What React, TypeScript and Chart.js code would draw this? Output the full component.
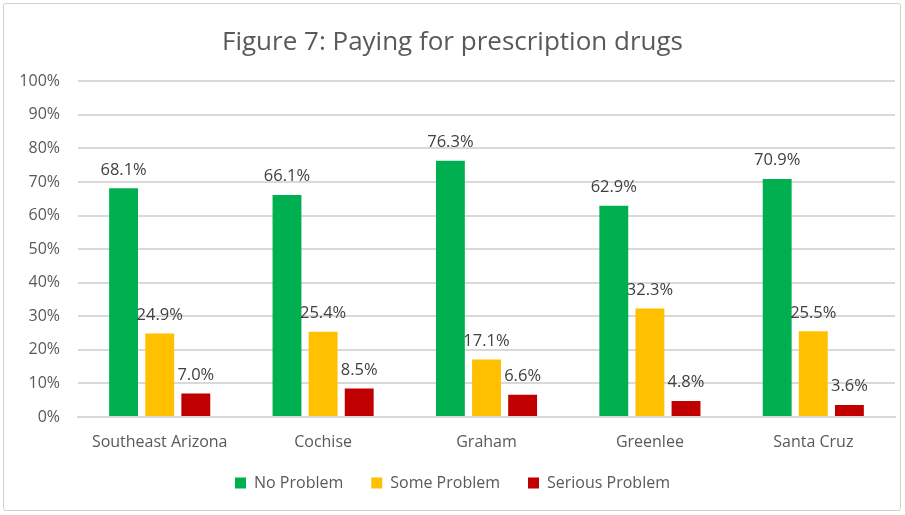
import React, { useEffect, useRef } from "react";
import { Chart, registerables } from "chart.js";

Chart.register(...registerables);

const categories = ["Southeast Arizona", "Cochise", "Graham", "Greenlee", "Santa Cruz"];
const noProblem = [68.1, 66.1, 76.3, 62.9, 70.9];
const someProblem = [24.9, 25.4, 17.1, 32.3, 25.5];
const seriousProblem = [7.0, 8.5, 6.6, 4.8, 3.6];
const seriesNames = ["No Problem", "Some Problem", "Serious Problem"];
const seriesColors = ["#00B050", "#FFC000", "#C00000"];

const FONT = "'Open Sans', 'Noto Sans', sans-serif";
const TEXT = "#595959";

const valueLabels = {
  id: "valueLabels",
  afterDatasetsDraw(chart: any) {
    const ctx = chart.ctx;
    ctx.save();
    ctx.font = `16.5px ${FONT}`;
    ctx.fillStyle = "#404040";
    ctx.textAlign = "center";
    ctx.textBaseline = "bottom";
    chart.data.datasets.forEach((ds: any, i: number) => {
      const meta = chart.getDatasetMeta(i);
      meta.data.forEach((bar: any, j: number) => {
        ctx.fillText(ds.data[j].toFixed(1) + "%", bar.x, bar.y - 10);
      });
    });
    ctx.restore();
  },
};

export default function App() {
  const ref = useRef<HTMLCanvasElement>(null);
  useEffect(() => {
    const chart = new Chart(ref.current!, {
      type: "bar",
      data: {
        labels: categories,
        datasets: [noProblem, someProblem, seriousProblem].map((d, i) => ({
          label: seriesNames[i],
          data: d,
          backgroundColor: seriesColors[i],
          borderWidth: 0,
          categoryPercentage: 0.663,
          barPercentage: 0.8,
        })),
      },
      options: {
        animation: false,
        responsive: false,
        maintainAspectRatio: false,
        layout: { padding: { left: 10, right: 10, top: 10, bottom: 14 } },
        plugins: {
          title: {
            display: true,
            text: "Figure 7: Paying for prescription drugs",
            color: TEXT,
            font: { family: FONT, size: 26, weight: "normal" },
            padding: { top: 17, bottom: 23 },
          },
          legend: {
            position: "bottom",
            labels: {
              boxWidth: 11,
              boxHeight: 11,
              color: TEXT,
              font: { family: FONT, size: 16 },
              padding: 28,
            },
          },
          tooltip: { enabled: false },
        },
        scales: {
          x: {
            grid: { display: false },
            border: { color: "#d9d9d9", width: 2 },
            afterFit: (s: any) => { s.height = 30; },
            ticks: { color: TEXT, font: { family: FONT, size: 16 }, padding: 8 },
          },
          y: {
            min: 0,
            max: 100,
            afterFit: (s: any) => { s.width = 68; },
            ticks: {
              stepSize: 10,
              color: TEXT,
              font: { family: FONT, size: 16 },
              padding: 18,
              callback: (v: any) => v + "%",
            },
            grid: { color: "#d9d9d9", lineWidth: 2, drawTicks: false },
            border: { display: false },
          },
        },
      },
      plugins: [valueLabels],
    });
    return () => chart.destroy();
  }, []);
  return (
    <div style={{ position: "fixed", left: 0, top: 0, width: 905, height: 515, background: "#fff" }}>
      <canvas ref={ref} width={905} height={515} style={{ position: "absolute", left: 0, top: 0 }} />
      <div
        style={{
          position: "absolute",
          left: 3,
          top: 3,
          width: 896,
          height: 506,
          border: "1.5px solid #d0d0d0",
          borderRadius: 3,
          pointerEvents: "none",
        }}
      />
    </div>
  );
}
